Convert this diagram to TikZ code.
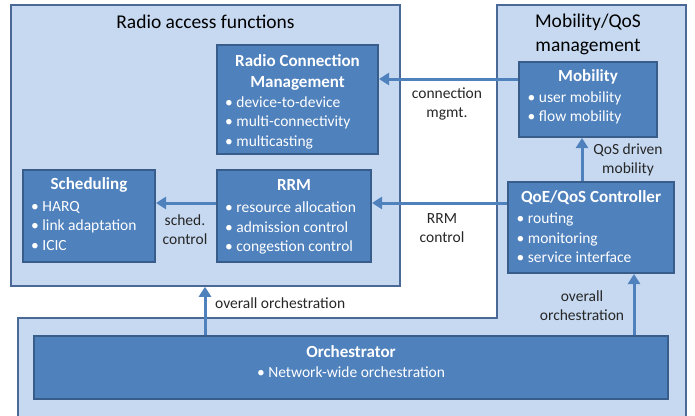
\documentclass[tikz,border=0pt]{standalone}
\usepackage{fontspec}
\setmainfont{Carlito}
\usetikzlibrary{arrows.meta}
\definecolor{lightbg}{RGB}{198,217,241}
\definecolor{boxfill}{RGB}{79,129,189}
\definecolor{boxline}{RGB}{56,93,138}
\definecolor{contline}{RGB}{74,105,150}
\begin{document}
\begin{tikzpicture}[x=1pt,y=-1pt,
  container/.style={draw=contline, line width=1.5pt, fill=lightbg, inner sep=0pt},
  dbox/.style={draw=boxline, line width=2pt, fill=boxfill, inner sep=0pt},
  btitle/.style={text=white, font=\fontsize{17}{21}\selectfont\bfseries, align=center, inner sep=0pt},
  blist/.style={text=white, font=\fontsize{15.5}{19.5}\selectfont, align=left, inner sep=0pt, anchor=west},
  lbl/.style={font=\fontsize{15.5}{19}\selectfont, align=center, inner sep=0pt, text=black!85},
  ctitle/.style={font=\fontsize{19.5}{24}\selectfont, align=center, inner sep=0pt, text=black},
  arr/.style={draw=boxfill, line width=3pt, -{Triangle[length=10pt,width=12pt]}}]
\useasboundingbox (0,0) rectangle (695,415);
% outer L-shaped container
\fill[lightbg] (18,425) -- (18,318) -- (497,318) -- (497,5) -- (686,5) -- (686,425) -- cycle;
\draw[contline, line width=1.5pt] (18,425) -- (18,318) -- (497,318) -- (497,5) -- (686,5) -- (686,425);
% radio access container
\node[container, minimum width=389, minimum height=281] (radio) at (205.5,145.5) {};
\node[ctitle] (radiot) at (205.5,22) {Radio access functions};
\node[ctitle] (mobt) at (588,34) {Mobility/QoS\\management};
% boxes
\node[dbox, minimum width=161, minimum height=109] (rcm) at (297.5,99.5) {};
\node[dbox, minimum width=132, minimum height=92] (sched) at (89,216) {};
\node[dbox, minimum width=154, minimum height=92] (rrm) at (294,216) {};
\node[dbox, minimum width=138, minimum height=75] (mob) at (588,99.5) {};
\node[dbox, minimum width=166, minimum height=91] (qoe) at (591,227.5) {};
\node[dbox, minimum width=634, minimum height=63] (orch) at (351,367.5) {};
% box texts
\node[btitle] (rcmt) at (297.5,72) {Radio Connection\\Management};
\node[blist] (rcml) at (225,122.5) {• device-to-device\\• multi-connectivity\\• multicasting};
\node[btitle] (schedt) at (89,185) {Scheduling};
\node[blist] (schedl) at (31,226) {• HARQ\\• link adaptation\\• ICIC};
\node[btitle] (rrmt) at (294,185) {RRM};
\node[blist] (rrml) at (225,228) {• resource allocation\\• admission control\\• congestion control};
\node[btitle] (mobt2) at (588,77) {Mobility};
\node[blist] (mobl) at (527.5,108) {• user mobility\\• flow mobility};
\node[btitle] (qoet) at (591,198) {QoE/QoS Controller};
\node[blist] (qoel) at (516.5,238) {• routing\\• monitoring\\• service interface};
\node[btitle] (orcht) at (351,352) {Orchestrator};
\node[blist, anchor=center] (orchl) at (351,372) {• Network-wide orchestration};
% arrows
\draw[arr] (mob.west |- 0,79) -- (rcm.east |- 0,79);
\draw[arr] (qoe.north -| 582,0) -- (mob.south -| 582,0);
\draw[arr] (qoe.west |- 0,203) -- (rrm.east |- 0,203);
\draw[arr] (rrm.west |- 0,203) -- (sched.east |- 0,203);
\draw[arr] (orch.north -| 205,0) -- (radio.south -| 205,0);
\draw[arr] (orch.north -| 634,0) -- (qoe.south -| 634,0);
% labels
\node[lbl] (l1) at (447,104) {connection\\mgmt.};
\node[lbl] (l2) at (628,160) {QoS driven\\mobility};
\node[lbl] (l3) at (185,230) {sched.\\control};
\node[lbl] (l4) at (442,228) {RRM\\control};
\node[lbl, anchor=west] (l5) at (215,303) {overall orchestration};
\node[lbl] (l6) at (582,306) {overall\\orchestration};
\end{tikzpicture}
\end{document}
